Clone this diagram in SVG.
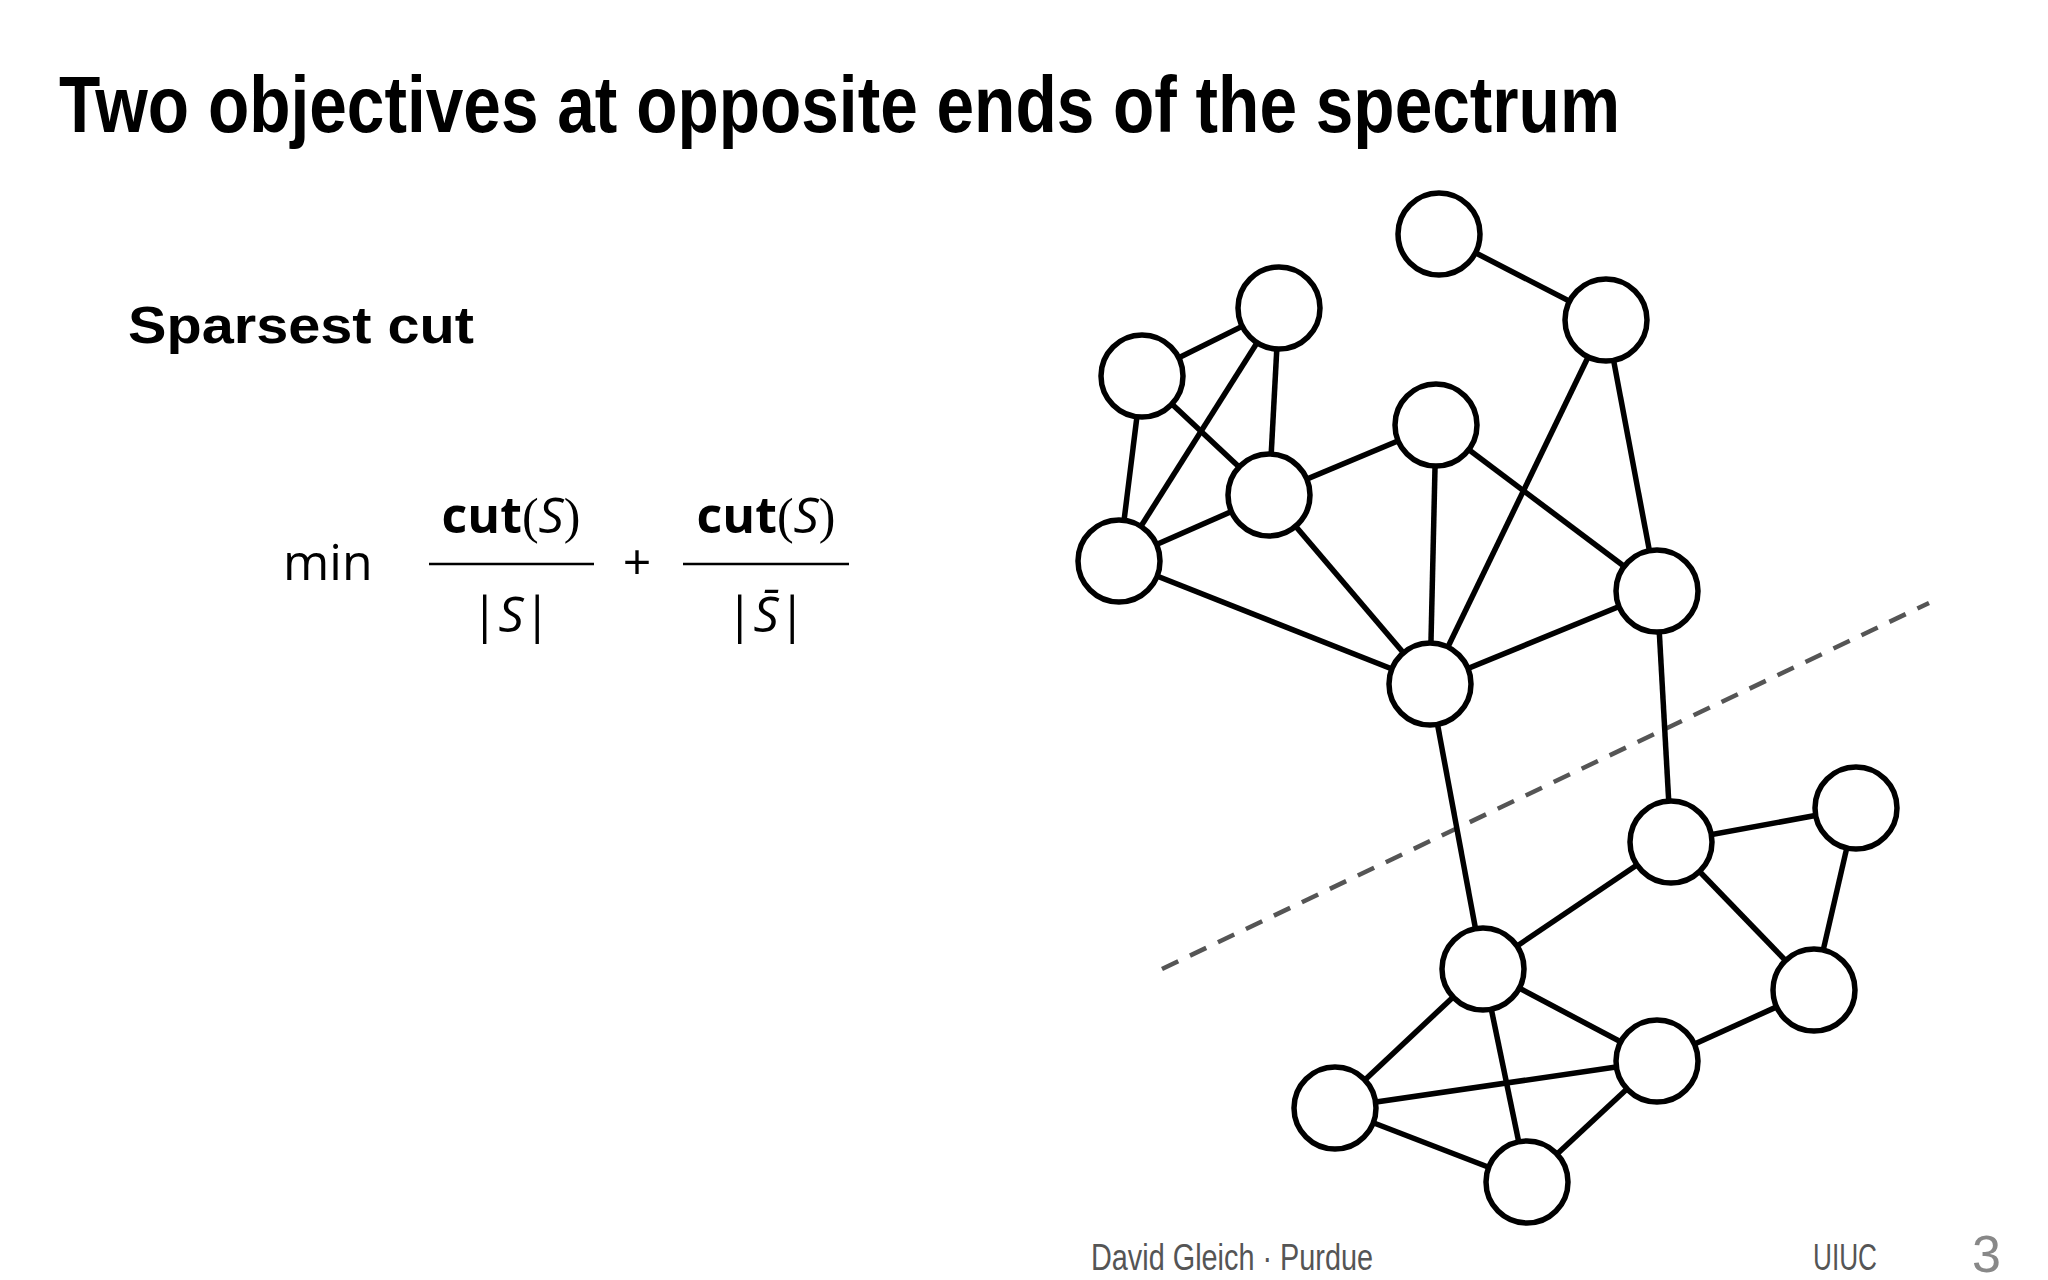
<svg xmlns="http://www.w3.org/2000/svg" width="2048" height="1280" viewBox="0 0 2048 1280">
<style>
.n{fill:#fff;stroke:#000;stroke-width:5.5}
.e line{stroke:#000;stroke-width:5.5}
.t{font-family:"Liberation Sans",sans-serif}
.m{font-family:"Open Sans","DejaVu Sans",sans-serif;font-size:50px}
.f{font-family:"Liberation Sans",sans-serif;fill:#555;font-size:36px}
</style>
<rect width="2048" height="1280" fill="#fff"/>
<text class="t" x="59" y="132" font-size="80" font-weight="bold" textLength="1561" lengthAdjust="spacingAndGlyphs">Two objectives at opposite ends of the spectrum</text>
<text class="t" x="128" y="343" font-size="52" font-weight="bold" textLength="346" lengthAdjust="spacingAndGlyphs">Sparsest cut</text>
<g class="m">
<text x="283" y="580">min</text>
<text x="511" y="533" text-anchor="middle"><tspan font-weight="bold">cut</tspan><tspan font-family="Liberation Serif,serif">(</tspan><tspan font-style="italic">S</tspan><tspan font-family="Liberation Serif,serif">)</tspan></text>
<line x1="429" y1="564" x2="594" y2="564" stroke="#000" stroke-width="2.5"/>
<text x="511" y="632" text-anchor="middle">|<tspan font-style="italic">S</tspan>|</text>
<text x="637" y="580" text-anchor="middle">+</text>
<text x="766" y="533" text-anchor="middle"><tspan font-weight="bold">cut</tspan><tspan font-family="Liberation Serif,serif">(</tspan><tspan font-style="italic">S</tspan><tspan font-family="Liberation Serif,serif">)</tspan></text>
<line x1="683" y1="564" x2="849" y2="564" stroke="#000" stroke-width="2.5"/>
<text x="766" y="632" text-anchor="middle">|<tspan font-style="italic">S̄</tspan>|</text>
</g>
<g transform="translate(-10,-3)">
<line x1="1172" y1="972" x2="1939" y2="606" stroke="#555" stroke-width="4.5" stroke-dasharray="18,13"/>
<g class="e" id="edges">
<line x1="1449" y1="237" x2="1616" y2="323"/>
<line x1="1289" y1="311" x2="1152" y2="379"/>
<line x1="1289" y1="311" x2="1129" y2="564"/>
<line x1="1289" y1="311" x2="1279" y2="498"/>
<line x1="1152" y1="379" x2="1279" y2="498"/>
<line x1="1152" y1="379" x2="1129" y2="564"/>
<line x1="1129" y1="564" x2="1279" y2="498"/>
<line x1="1129" y1="564" x2="1440" y2="687"/>
<line x1="1279" y1="498" x2="1446" y2="428"/>
<line x1="1279" y1="498" x2="1440" y2="687"/>
<line x1="1446" y1="428" x2="1440" y2="687"/>
<line x1="1446" y1="428" x2="1667" y2="594"/>
<line x1="1616" y1="323" x2="1440" y2="687"/>
<line x1="1616" y1="323" x2="1667" y2="594"/>
<line x1="1667" y1="594" x2="1440" y2="687"/>
<line x1="1667" y1="594" x2="1681" y2="845"/>
<line x1="1440" y1="687" x2="1493" y2="972"/>
<line x1="1681" y1="845" x2="1866" y2="811"/>
<line x1="1681" y1="845" x2="1493" y2="972"/>
<line x1="1681" y1="845" x2="1824" y2="993"/>
<line x1="1866" y1="811" x2="1824" y2="993"/>
<line x1="1493" y1="972" x2="1667" y2="1064"/>
<line x1="1493" y1="972" x2="1345" y2="1111"/>
<line x1="1493" y1="972" x2="1537" y2="1185"/>
<line x1="1345" y1="1111" x2="1667" y2="1064"/>
<line x1="1345" y1="1111" x2="1537" y2="1185"/>
<line x1="1667" y1="1064" x2="1537" y2="1185"/>
<line x1="1667" y1="1064" x2="1824" y2="993"/>
</g>
<g id="nA"><circle class="n" cx="1449" cy="237" r="41"/></g>
<g id="nB"><circle class="n" cx="1289" cy="311" r="41"/></g>
<g id="nC"><circle class="n" cx="1616" cy="323" r="41"/></g>
<g id="nD"><circle class="n" cx="1152" cy="379" r="41"/></g>
<g id="nE"><circle class="n" cx="1446" cy="428" r="41"/></g>
<g id="nF"><circle class="n" cx="1279" cy="498" r="41"/></g>
<g id="nG"><circle class="n" cx="1129" cy="564" r="41"/></g>
<g id="nH"><circle class="n" cx="1667" cy="594" r="41"/></g>
<g id="nI"><circle class="n" cx="1440" cy="687" r="41"/></g>
<g id="nJ"><circle class="n" cx="1681" cy="845" r="41"/></g>
<g id="nK"><circle class="n" cx="1866" cy="811" r="41"/></g>
<g id="nL"><circle class="n" cx="1493" cy="972" r="41"/></g>
<g id="nM"><circle class="n" cx="1824" cy="993" r="41"/></g>
<g id="nN"><circle class="n" cx="1667" cy="1064" r="41"/></g>
<g id="nO"><circle class="n" cx="1345" cy="1111" r="41"/></g>
<g id="nP"><circle class="n" cx="1537" cy="1185" r="41"/></g>
</g>
<text class="f" x="1091" y="1270" textLength="282" lengthAdjust="spacingAndGlyphs">David Gleich · Purdue</text>
<text class="f" x="1813" y="1270" textLength="64" lengthAdjust="spacingAndGlyphs">UIUC</text>
<text class="t" x="1972" y="1272" font-size="52" fill="#888">3</text>
</svg>
